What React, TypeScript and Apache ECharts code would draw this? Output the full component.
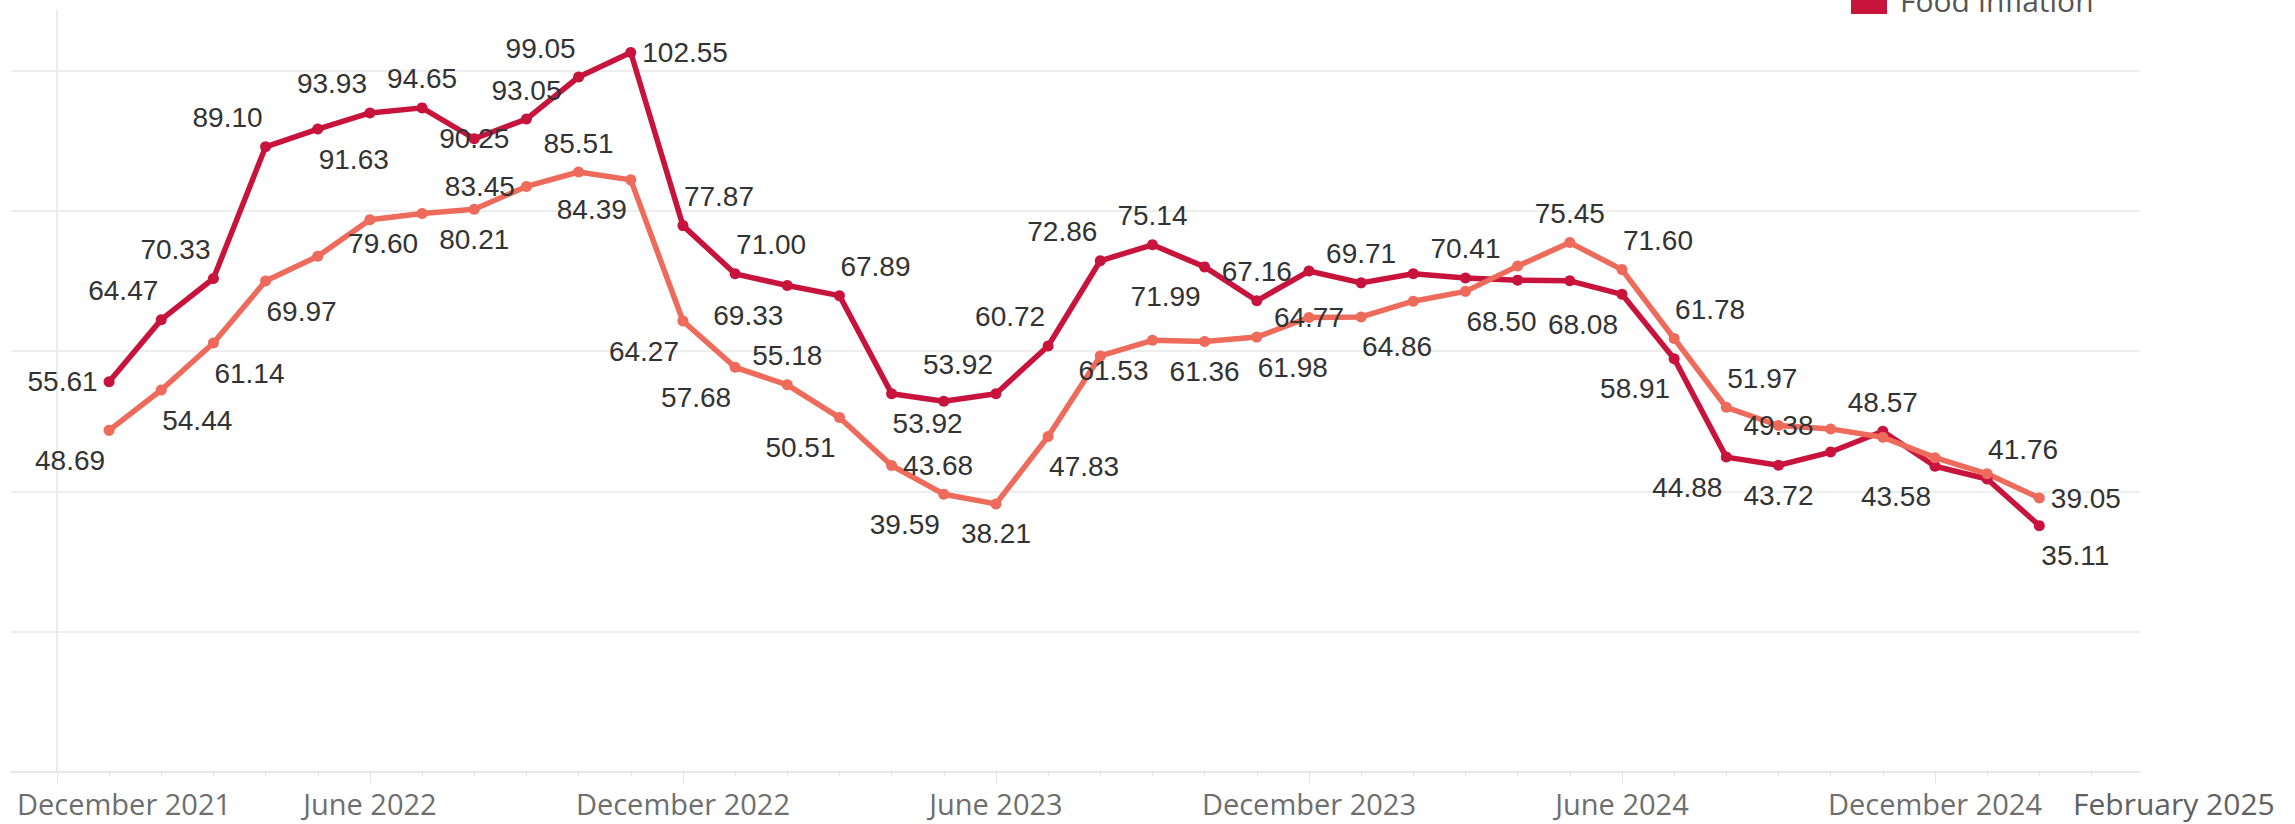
import React, { useEffect, useRef } from "react";
import * as echarts from "echarts";

// Month index on the x axis: 0 = December 2021, 1 = January 2022, ...
const majorTickMonths = [0, 6, 12, 18, 24, 30, 36];
const tickLabels = [
  "December 2021",
  "June 2022",
  "December 2022",
  "June 2023",
  "December 2023",
  "June 2024",
  "December 2024",
];
const firstDataMonth = 1; // January 2022
const lastPointLabel = "February 2025";

const foodInflation = [
  55.61, 64.47, 70.33, 89.1, 91.63, 93.93, 94.65, 90.25, 93.05, 99.05, 102.55,
  77.87, 71.0, 69.33, 67.89, 53.92, 52.85, 53.92, 60.72, 72.86, 75.14, 71.99,
  67.16, 71.4, 69.71, 71.0, 70.41, 70.1, 70.0, 68.08, 58.91, 44.88, 43.72, 45.6,
  48.57, 43.58, 41.76, 35.11,
];
const otherInflation = [
  48.69, 54.44, 61.14, 69.97, 73.5, 78.7, 79.6, 80.21, 83.45, 85.51, 84.39,
  64.27, 57.68, 55.18, 50.51, 43.68, 39.59, 38.21, 47.83, 59.3, 61.53, 61.36,
  61.98, 64.77, 64.86, 67.1, 68.5, 72.1, 75.45, 71.6, 61.78, 51.97, 49.38, 48.9,
  47.7, 44.8, 42.5, 39.05,
];

// Label placement codes per point ("" = label hidden)
const foodLabelPos = [
  "l", "tl", "tl", "tl", "br", "tl", "t", "c", "t", "tl", "r",
  "tr", "tr", "bl", "tr", "br", "", "tl", "tl", "tl", "t", "bl",
  "t", "", "t", "", "t", "", "", "bl", "bl", "bl", "b", "",
  "t", "bl", "tr", "br",
];
const otherLabelPos = [
  "bl", "br", "br", "br", "", "", "bl", "b", "l", "t", "bl",
  "bl", "bl", "t", "bl", "r", "bl", "b", "br", "", "bl", "b",
  "br", "c", "br", "", "br", "", "t", "tr", "tr", "tr", "c", "",
  "", "", "", "r",
];

const FOOD_COLOR = "#C8143C";
const OTHER_COLOR = "#EE6A5B";

const OFFSETS: Record<string, number[]> = {
  tl: [-38, -29],
  tr: [36, -29],
  bl: [-39, 30],
  br: [36, 30],
  t: [0, -29],
  b: [0, 30],
  c: [0, 0],
};

function labelFor(code: string) {
  if (!code) return { show: false };
  if (code === "l") return { show: true, position: "left", distance: 6 };
  if (code === "r") return { show: true, position: "right", distance: 6 };
  return { show: true, position: "inside", offset: OFFSETS[code] };
}

function buildData(values: number[], codes: string[]) {
  return values.map((v, i) => ({
    value: [i + firstDataMonth, v],
    label: labelFor(codes[i]),
  }));
}

export default function App() {
  const ref = useRef<HTMLDivElement>(null);

  useEffect(() => {
    if (!ref.current) return;
    const chart = echarts.init(ref.current, undefined, { renderer: "svg" });
    const allMonths: number[] = [];
    for (let m = 0; m <= 39; m++) allMonths.push(m);
    const labelMonths = majorTickMonths.slice(1);

    const labelStyle = {
      formatter: (p: any) => Number(p.value[1]).toFixed(2),
      fontFamily: "Liberation Sans, Arial, sans-serif",
      fontSize: 28,
      color: "#333333",
    };

    chart.setOption({
      animation: false,
      grid: { left: 11, top: 10, right: 2295 - 2140, bottom: 824 - 772 },
      xAxis: [
        {
          type: "value",
          min: -0.88,
          max: 39.93,
          position: "bottom",
          axisLine: { show: true, lineStyle: { color: "#e8e8e8", width: 2 } },
          axisTick: {
            show: true,
            customValues: allMonths,
            length: 4,
            lineStyle: { color: "#e2e2e2", width: 1 },
          },
          axisLabel: {
            show: true,
            customValues: labelMonths,
            formatter: (v: number) => tickLabels[majorTickMonths.indexOf(v)] || "",
            fontFamily: "Open Sans",
            fontSize: 29,
            lineHeight: 29,
            color: "#6e6e6e",
            margin: 17,
          },
          splitLine: { show: false },
        },
        {
          type: "value",
          min: -0.88,
          max: 39.93,
          position: "bottom",
          offset: 0,
          axisLine: { show: false },
          axisTick: {
            show: true,
            customValues: majorTickMonths,
            length: 11,
            lineStyle: { color: "#e2e2e2", width: 1 },
          },
          axisLabel: { show: false },
          splitLine: { show: false },
        },
      ],
      yAxis: {
        type: "value",
        min: 0,
        max: 108.6,
        interval: 20,
        axisLine: { show: true, lineStyle: { color: "#ececec", width: 2 } },
        axisTick: { show: false },
        axisLabel: { show: false },
        splitLine: {
          show: true,
          showMinLine: false,
          showMaxLine: false,
          lineStyle: { color: "#eeeeee", width: 2 },
        },
      },
      series: [
        {
          name: "Food Inflation",
          type: "line",
          data: buildData(foodInflation, foodLabelPos),
          symbol: "circle",
          symbolSize: 11,
          lineStyle: { color: FOOD_COLOR, width: 5.5 },
          itemStyle: { color: FOOD_COLOR },
          label: labelStyle,
          silent: true,
          emphasis: { disabled: true },
        },
        {
          name: "Overall Inflation",
          type: "line",
          data: buildData(otherInflation, otherLabelPos),
          symbol: "circle",
          symbolSize: 11,
          lineStyle: { color: OTHER_COLOR, width: 5.5 },
          itemStyle: { color: OTHER_COLOR },
          label: labelStyle,
          silent: true,
          emphasis: { disabled: true },
        },
      ],
      graphic: [
        {
          type: "text",
          left: 17,
          top: 789,
          style: {
            text: tickLabels[0],
            fontFamily: "Open Sans",
            fontSize: 29,
            lineHeight: 29,
            fill: "#6e6e6e",
          },
        },
        {
          type: "text",
          left: 2073,
          top: 788,
          style: {
            text: lastPointLabel,
            fontFamily: "Open Sans",
            fontSize: 30,
            lineHeight: 30,
            fill: "#606060",
          },
        },
        {
          type: "rect",
          shape: { x: 1851, y: -23, width: 36, height: 37 },
          style: { fill: FOOD_COLOR },
        },
        {
          type: "text",
          x: 1900,
          y: 0,
          style: {
            text: "Food Inflation",
            fontFamily: "Open Sans",
            fontSize: 30,
            fill: "#555555",
            verticalAlign: "middle",
          },
        },
      ],
    });
    return () => chart.dispose();
  }, []);

  return (
    <div
      ref={ref}
      style={{ position: "fixed", left: 0, top: 0, width: 2295, height: 824, background: "#ffffff" }}
    />
  );
}
